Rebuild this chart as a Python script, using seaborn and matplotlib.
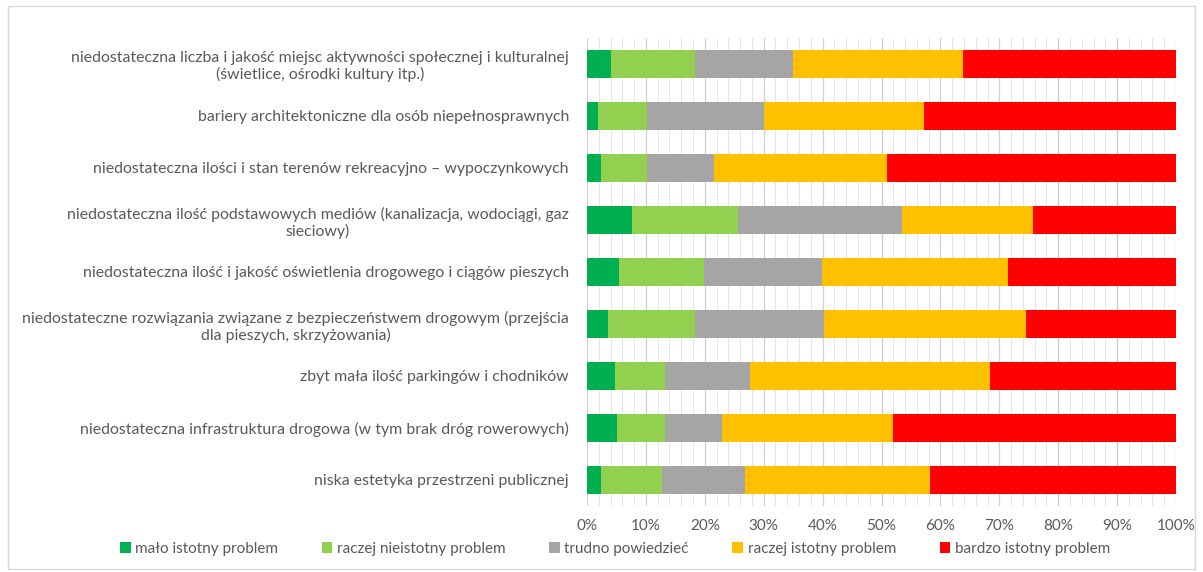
import numpy as np
import pandas as pd
import matplotlib
matplotlib.use("Agg")
import matplotlib.pyplot as plt
import seaborn as sns
from matplotlib.patches import Patch, Rectangle
from matplotlib.ticker import MultipleLocator, PercentFormatter

categories = [
    "niedostateczna liczba i jakość miejsc aktywności społecznej i kulturalnej\n(świetlice, ośrodki kultury itp.)",
    "bariery architektoniczne dla osób niepełnosprawnych",
    "niedostateczna ilości i stan terenów rekreacyjno – wypoczynkowych",
    "niedostateczna ilość podstawowych mediów (kanalizacja, wodociągi, gaz\nsieciowy)",
    "niedostateczna ilość i jakość oświetlenia drogowego i ciągów pieszych",
    "niedostateczne rozwiązania związane z bezpieczeństwem drogowym (przejścia\ndla pieszych, skrzyżowania)",
    "zbyt mała ilość parkingów i chodników",
    "niedostateczna infrastruktura drogowa (w tym brak dróg rowerowych)",
    "niska estetyka przestrzeni publicznej",
]

series_names = ["mało istotny problem", "raczej nieistotny problem", "trudno powiedzieć",
                "raczej istotny problem", "bardzo istotny problem"]

malo_istotny = [4.0, 1.9, 2.3, 7.7, 5.5, 3.5, 4.7, 5.1, 2.3]
raczej_nieistotny = [14.3, 8.3, 7.9, 17.9, 14.4, 14.9, 8.5, 8.1, 10.4]
trudno_powiedziec = [16.7, 19.8, 11.3, 27.8, 20.0, 21.9, 14.5, 9.8, 14.1]
raczej_istotny = [28.9, 27.2, 29.4, 22.4, 31.6, 34.3, 40.8, 29.0, 31.5]
bardzo_istotny = [36.1, 42.8, 49.1, 24.2, 28.5, 25.4, 31.5, 48.0, 41.7]

colors = ["#00B050", "#92D050", "#A5A5A5", "#FFC000", "#FF0000"]

values = np.array([malo_istotny, raczej_nieistotny, trudno_powiedziec, raczej_istotny, bardzo_istotny])
cum = np.cumsum(values, axis=0)

sns.set_theme(style="white")
plt.rcParams["font.family"] = ["Lato", "DejaVu Sans"]

fig = plt.figure(figsize=(12.03, 5.72), dpi=100)
ax = fig.add_axes([587 / 1203, 1 - 506 / 572, (1176 - 587) / 1203, (506 - 38) / 572])

text_color = "#595959"

for i in range(4, -1, -1):
    df = pd.DataFrame({"cat": categories, "val": cum[i]})
    sns.barplot(data=df, x="val", y="cat", orient="h", color=colors[i], saturation=1,
                width=0.54, ax=ax, linewidth=0, zorder=3)

ax.set_xlim(0, 100)
ax.set_ylim(8.5, -0.5)
ax.xaxis.set_major_locator(MultipleLocator(10))
ax.xaxis.set_minor_locator(MultipleLocator(2))
ax.xaxis.set_major_formatter(PercentFormatter(decimals=0))
ax.grid(axis="x", which="major", color="#D0D0D0", linewidth=0.9, zorder=0)
ax.grid(axis="x", which="minor", color="#E6E6E6", linewidth=0.7, zorder=0)
ax.set_axisbelow(True)
for s in ax.spines.values():
    s.set_visible(False)
ax.set_xlabel("")
ax.set_ylabel("")
ax.tick_params(axis="x", which="both", length=0, labelsize=11, labelcolor=text_color, pad=9)
ax.tick_params(axis="y", length=0, labelsize=11.4, labelcolor=text_color, pad=13)
for lab in ax.get_yticklabels():
    lab.set_multialignment("center")

handles = [Patch(facecolor=c, edgecolor="none", label=n) for c, n in zip(colors, series_names)]
fig.legend(handles=handles, loc="center", bbox_to_anchor=(615 / 1203, 1 - 549 / 572), ncol=5,
           frameon=False, fontsize=11, labelcolor=text_color, handlelength=0.7, handleheight=0.7,
           handletextpad=0.3, columnspacing=2.85)

fig.patches.append(Rectangle((8 / 1203, 0.005), 1 - 16 / 1203, 0.985, transform=fig.transFigure,
                             fill=False, edgecolor="#D9D9D9", linewidth=1))

fig.savefig("out.png", dpi=100, facecolor="white")
